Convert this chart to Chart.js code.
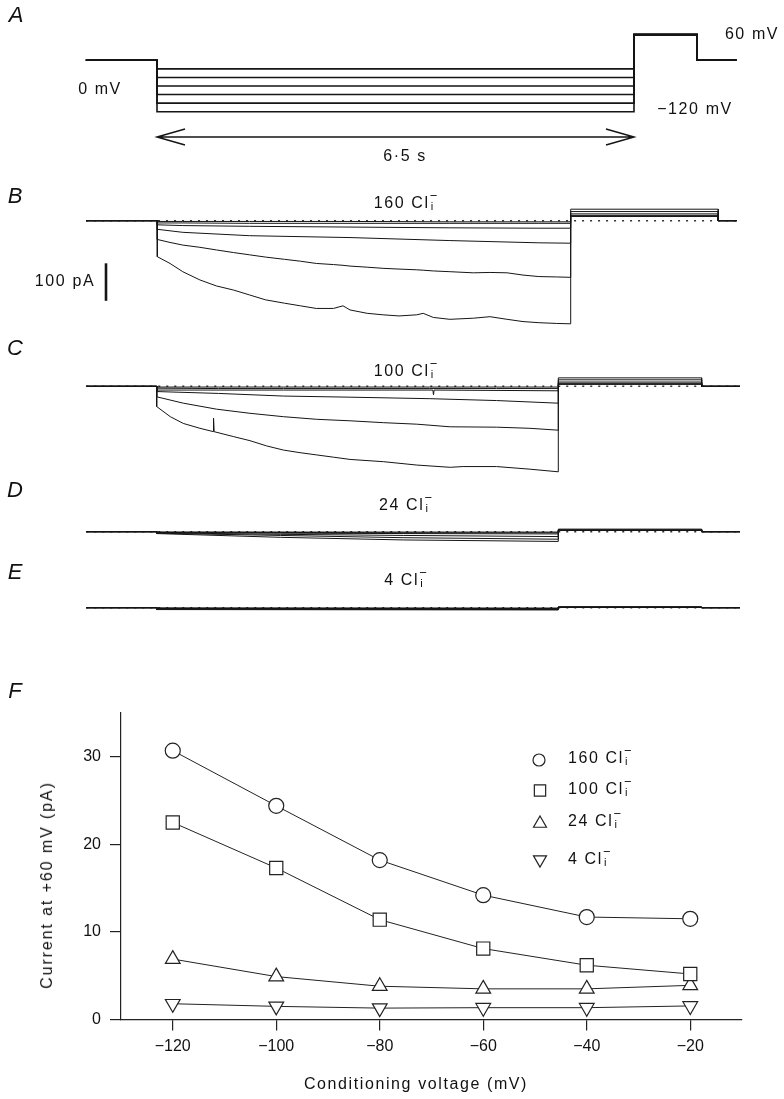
<!DOCTYPE html>
<html lang="en"><head><meta charset="utf-8"><title>Cl- dependence of tail currents</title>
<script src="https://cdn.jsdelivr.net/npm/chart.js@4.4.1/dist/chart.umd.min.js"></script>
<style>
html,body{margin:0;padding:0;background:#fff;}
#fig{position:relative;width:784px;height:1099px;overflow:hidden;font-family:"Liberation Sans",Arial,Helvetica,sans-serif;color:#111;}
#fig canvas{position:absolute;left:0;}
.t{position:absolute;white-space:nowrap;font-size:16px;line-height:1;letter-spacing:1.6px;transform:translate(-50%,-50%);}
.lt{transform:translate(0,-50%);}
.pl{font-style:italic;font-size:22px;letter-spacing:0;}
.ion{display:inline-block;position:relative;width:0.42em;height:1em;vertical-align:top;letter-spacing:0;}
.ion .sp{position:absolute;left:0.02em;top:-0.36em;font-size:0.8em;}
.ion .sb{position:absolute;left:0.1em;top:0.5em;font-size:0.7em;}
.rot{transform:translate(-50%,-50%) rotate(-90deg);letter-spacing:1.9px;}
</style></head><body><div id="fig"></div>
<script>
// ---------------- DATA ----------------
// Panel A: voltage protocol
const condVoltages = [-120, -100, -80, -60, -40, -20];     // conditioning steps (mV)
const holdingV = 0;                                         // mV
const testV = 60;                                           // mV
const condDuration = 6.5;                                   // s
const protocolTimes = [-0.97, 0, 6.5, 7.36, 7.9];           // s: start, step, test on, test off, end

// Panel F: current at +60 mV vs conditioning voltage (pA)
const fVoltages = [-120, -100, -80, -60, -40, -20];
const cl160 = [30.7, 24.4, 18.2, 14.2, 11.7, 11.5];
const cl100 = [22.5, 17.3, 11.4, 8.1, 6.2, 5.2];
const cl24  = [6.9, 4.9, 3.8, 3.5, 3.5, 3.9];
const cl4   = [1.8, 1.5, 1.3, 1.35, 1.35, 1.55];
const fXTicks = [-120, -100, -80, -60, -40, -20];
const fYTicks = [0, 10, 20, 30];
const seriesLabels = ['160', '100', '24', '4'];

// Panel B: 160 Cl- (pA), sweep start / tail end / sweep end (s)
const bSweep = [-1.12, 8.82, 9.11];
const bTimes = [0, 0.2, 0.4, 0.67, 0.93, 1.2, 1.45, 1.7, 2.0, 2.25, 2.5, 2.77, 2.92, 3.03, 3.3, 3.55, 3.8, 4.08, 4.18, 4.34, 4.6, 4.97, 5.23, 5.5, 5.75, 6.0, 6.28, 6.5];
const bI120 = [-96, -114, -136, -158, -174, -185, -198, -211, -220, -227, -234, -234, -227, -238, -247, -251, -254, -251, -247, -258, -263, -260, -256, -263, -269, -272, -274, -275];
const bI100 = [-50, -58, -65, -71, -78, -85, -91, -97, -103, -108, -114, -117, -119, -121, -124, -127, -129, -131, -132, -134, -136, -139, -138, -139, -145, -149, -150, -151];
const bShortTimes = [0, 0.4, 1.45, 3.03, 4.6, 6.0, 6.5];
const bI80 = [-23, -31, -40, -45, -53, -59, -60];
const bI60 = [-11, -13, -15, -17, -19, -20, -20];
const bI40 = [-6, -6, -7, -7, -7, -7, -7];
const bI20 = [-2, -2, -2, -2, -3, -3, -3];

// Panel C: 100 Cl- (pA)
const cSweep = [-1.14, 8.82, 9.44];
const cTimes120 = [0, 0.22, 0.43, 0.70, 0.92, 0.92, 0.93, 1.24, 1.51, 1.78, 2.05, 2.32, 2.59, 2.86, 3.13, 3.67, 4.21, 4.75, 4.96, 5.50, 6.04, 6.5];
const cI120 = [-54, -81, -99, -112, -121, -85, -121, -134, -145, -159, -170, -177, -183, -189, -195, -201, -210, -216, -214, -214, -221, -228];
const cTimes100 = [0, 0.43, 0.97, 1.51, 2.05, 2.59, 3.13, 3.67, 4.21, 4.75, 5.5, 6.04, 6.5];
const cI100 = [-28, -45, -61, -72, -81, -88, -92, -97, -101, -108, -109, -112, -117];
const cShortTimes = [0, 1.0, 2.05, 3.13, 4.42, 5.5, 6.5];
const cI80 = [-14, -19, -26, -29, -33, -38, -45];
const cTimes60 = [0, 2.05, 4.47, 4.48, 4.49, 6.5];
const cI60 = [-10, -10, -10, -23, -10, -12];
const cI40 = [-5, -6, -6, -6, -6, -6, -6];
const cI20 = [-2, -2, -2, -2, -2, -2, -2];

// Panel D: 24 Cl- (pA)
const dSweep = [-1.14, 8.82, 9.44];
const dTimes = [0, 2, 4, 6.5];
const dI120 = [-5, -15, -22, -26];
const dI100 = [-4, -10, -16, -20];
const dI80 = [-3, -7, -10, -13];
const dI60 = [-2, -4, -5, -6];
const dI40 = [-1.5, -2, -3, -3];
const dI20 = [-1, -1, -1, -1];

// Panel E: 4 Cl- (pA)
const eSweep = [-1.14, 8.82, 9.44];
const eTimes = [0, 6.5];
const eI120 = [-5, -6];
const eI100 = [-4, -5];
const eI80 = [-3, -4];
const eI60 = [-2, -3];
const eI40 = [-1, -2];
const eI20 = [-1, -1];

const scaleBarPA = 100;

// ---------------- LAYOUT HELPERS ----------------
const fig = document.getElementById('fig');
const INK = '#151515';
function rangeX(v0, p0, v1, p1, size){ const k=(p1-p0)/(v1-v0); const min=v0-p0/k; return {min, max:min+size/k}; }
function rangeY(v0, p0, v1, p1, size){ const k=(p0-p1)/(v1-v0); const max=v0+p0/k; return {min:max-size/k, max}; }
function makeCanvas(top, height){
  const c=document.createElement('canvas'); c.width=784; c.height=height; c.style.top=top+'px'; fig.appendChild(c); return c;
}
function ionHTML(n){ return n+' Cl<span class="ion"><span class="sp">\u2212</span><span class="sb">i</span></span>'; }
function text(html, x, y, cls){
  const d=document.createElement('div'); d.className='t '+(cls||''); d.innerHTML=html; d.style.left=x+'px'; d.style.top=y+'px'; fig.appendChild(d); return d;
}
const minus = v => v<0 ? '\u2212'+Math.abs(v) : String(v);

function traceChart(canvas, datasets, xr, yr, extraPlugins){
  return new Chart(canvas, {
    type:'line',
    data:{datasets},
    options:{
      responsive:false, animation:false, devicePixelRatio:1,
      layout:{padding:0},
      events:[],
      plugins:{legend:{display:false}, tooltip:{enabled:false}},
      scales:{
        x:{type:'linear', display:false, min:xr.min, max:xr.max},
        y:{type:'linear', display:false, min:yr.min, max:yr.max}
      }
    },
    plugins: extraPlugins || []
  });
}
function lineDS(points, width, extra){
  return Object.assign({data:points, borderColor:INK, borderWidth:width||1, pointRadius:0, tension:0, clip:false, spanGaps:true}, extra||{});
}
function sweep(times, values, tail, sw){
  const pts=[{x:sw[0],y:0},{x:0,y:0}];
  times.forEach((t,i)=>pts.push({x:t,y:values[i]}));
  pts.push({x:condDuration,y:tail},{x:sw[1],y:tail},{x:sw[1],y:0},{x:sw[2],y:0});
  return pts;
}
function dotted(sw){
  return lineDS([{x:sw[0],y:0},{x:sw[2],y:0}], 1.6, {borderColor:'#333', borderDash:[2,6]});
}

// ---------------- PANEL A ----------------
{
  const c = makeCanvas(0, 180);
  const xr = rangeX(0, 157, 6.5, 634, 784);
  const yr = rangeY(0, 60.3, -120, 111.7, 180);
  const ds = condVoltages.map(v => lineDS([
    {x:protocolTimes[0], y:holdingV}, {x:protocolTimes[1], y:holdingV},
    {x:protocolTimes[1], y:v}, {x:protocolTimes[2], y:v},
    {x:protocolTimes[2], y:testV}, {x:protocolTimes[3], y:testV},
    {x:protocolTimes[3], y:holdingV}, {x:protocolTimes[4], y:holdingV}
  ], 1.6));
  const arrow = {
    id:'arrow',
    afterDatasetsDraw(ch){
      const ctx=ch.ctx, xs=ch.scales.x;
      const x0=xs.getPixelForValue(protocolTimes[1]), x1=xs.getPixelForValue(protocolTimes[2]), y=137;
      ctx.save(); ctx.strokeStyle=INK; ctx.lineWidth=1.5;
      ctx.beginPath(); ctx.moveTo(x0,y); ctx.lineTo(x1,y);
      ctx.moveTo(x0+28,y-8); ctx.lineTo(x0,y); ctx.lineTo(x0+28,y+8);
      ctx.moveTo(x1-28,y-8); ctx.lineTo(x1,y); ctx.lineTo(x1-28,y+8);
      ctx.stroke(); ctx.restore();
    }
  };
  traceChart(c, ds, xr, yr, [arrow]);
  text('A', 16, 15, 'pl');
  text('0 mV', 100, 89);
  text('60 mV', 752, 34);
  text('\u2212120 mV', 695, 109);
  text('6\u00b75 s', 405, 156);
}

// ---------------- PANEL B ----------------
{
  const c = makeCanvas(180, 155);
  const xr = rangeX(0, 157.3, 6.5, 570.7, 784);
  const yr = rangeY(0, 40.7, -100, 78.2, 155);
  const tails = cl160; // tail current at +60 mV, order -120 .. -20
  const ds = [
    lineDS(sweep(bTimes, bI120, tails[0], bSweep)),
    lineDS(sweep(bTimes, bI100, tails[1], bSweep)),
    lineDS(sweep(bShortTimes, bI80, tails[2], bSweep)),
    lineDS(sweep(bShortTimes, bI60, tails[3], bSweep)),
    lineDS(sweep(bShortTimes, bI40, tails[4], bSweep)),
    lineDS(sweep(bShortTimes, bI20, tails[5], bSweep)),
    dotted(bSweep)
  ];
  const bar = {
    id:'scalebar',
    afterDatasetsDraw(ch){
      const ctx=ch.ctx, ys=ch.scales.y;
      const top=ys.getPixelForValue(-113.6), bot=ys.getPixelForValue(-113.6-scaleBarPA);
      ctx.save(); ctx.strokeStyle=INK; ctx.lineWidth=2.6;
      ctx.beginPath(); ctx.moveTo(106,top); ctx.lineTo(106,bot); ctx.stroke(); ctx.restore();
    }
  };
  traceChart(c, ds, xr, yr, [bar]);
  text('B', 15, 196, 'pl');
  text(ionHTML('160'), 405, 203);
  text('100 pA', 65, 281);
}

// ---------------- PANEL C ----------------
const xrCDE = rangeX(0, 156.7, 6.5, 558.3, 784);
{
  const c = makeCanvas(335, 145);
  const yr = rangeY(0, 51.3, -100, 88.8, 145);
  const tails = cl100;
  const ds = [
    lineDS(sweep(cTimes120, cI120, tails[0], cSweep)),
    lineDS(sweep(cTimes100, cI100, tails[1], cSweep)),
    lineDS(sweep(cShortTimes, cI80, tails[2], cSweep)),
    lineDS(sweep(cTimes60, cI60, tails[3], cSweep)),
    lineDS(sweep(cShortTimes, cI40, tails[4], cSweep)),
    lineDS(sweep(cShortTimes, cI20, tails[5], cSweep)),
    dotted(cSweep)
  ];
  traceChart(c, ds, xrCDE, yr);
  text('C', 15, 348, 'pl');
  text(ionHTML('100'), 405, 371);
}

// ---------------- PANEL D ----------------
{
  const c = makeCanvas(480, 80);
  const yr = rangeY(0, 51.7, -100, 89.2, 80);
  const tails = cl24;
  const ds = [dI120, dI100, dI80, dI60, dI40, dI20].map((arr,i)=>lineDS(sweep(dTimes, arr, tails[i], dSweep)));
  ds.push(dotted(dSweep));
  traceChart(c, ds, xrCDE, yr);
  text('D', 15, 490, 'pl');
  text(ionHTML('24'), 405, 505);
}

// ---------------- PANEL E ----------------
{
  const c = makeCanvas(560, 80);
  const yr = rangeY(0, 47.7, -100, 85.2, 80);
  const tails = cl4;
  const ds = [eI120, eI100, eI80, eI60, eI40, eI20].map((arr,i)=>lineDS(sweep(eTimes, arr, tails[i], eSweep)));
  ds.push(dotted(eSweep));
  traceChart(c, ds, xrCDE, yr);
  text('E', 15, 572, 'pl');
  text(ionHTML('4'), 405, 580);
}

// ---------------- PANEL F ----------------
{
  const c = makeCanvas(640, 459);
  const styles = [
    {pointStyle:'circle', pointRadius:7.5, rotation:0},
    {pointStyle:'rect', pointRadius:9.3, rotation:0},
    {pointStyle:'triangle', pointRadius:8.5, rotation:0},
    {pointStyle:'triangle', pointRadius:8.5, rotation:180}
  ];
  const series = [cl160, cl100, cl24, cl4];
  const ds = series.map((arr,i)=>({
    label: seriesLabels[i]+' Cl',
    data: fVoltages.map((v,j)=>({x:v, y:arr[j]})),
    borderColor:'#222', borderWidth:1, tension:0, clip:false,
    pointStyle: styles[i].pointStyle, pointRadius: styles[i].pointRadius, pointRotation: styles[i].rotation,
    pointBackgroundColor:'#fff', pointBorderColor:'#222', pointBorderWidth:1.2
  }));
  const legendSyms = [
    {style:'circle', r:6, rot:0, x:539, y:120},
    {style:'rect', r:8, rot:0, x:540, y:150.5},
    {style:'triangle', r:7.5, rot:0, x:540, y:183.5},
    {style:'triangle', r:7.5, rot:180, x:540, y:219.6}
  ];
  const legendPlugin = {
    id:'symLegend',
    afterDraw(ch){
      const ctx=ch.ctx; ctx.save();
      ctx.strokeStyle='#222'; ctx.fillStyle='#fff';
      legendSyms.forEach(s=>{
        Chart.helpers.drawPoint(ctx, {pointStyle:s.style, radius:s.r, rotation:s.rot, borderWidth:1.1}, s.x, s.y);
      });
      ctx.restore();
    }
  };
  new Chart(c, {
    type:'line',
    data:{datasets:ds},
    options:{
      responsive:false, animation:false, devicePixelRatio:1, events:[],
      layout:{padding:{left:0, right:42, top:73, bottom:0}},
      plugins:{legend:{display:false}, tooltip:{enabled:false}},
      scales:{
        x:{type:'linear', min:-130, max:-10,
           afterFit(s){ s.height = 79.5; },
           afterBuildTicks(s){ s.ticks = fXTicks.map(v=>({value:v})); },
           ticks:{callback:v=>minus(v), color:'#111', font:{family:'"Liberation Sans", Arial, sans-serif', size:16}, padding:6, maxRotation:0, autoSkip:false},
           grid:{drawOnChartArea:false, drawTicks:true, tickLength:11, color:'#222', lineWidth:1.2},
           border:{display:true, color:'#222', width:1.2}},
        y:{type:'linear', min:0, max:35,
           afterFit(s){ s.width = 121; },
           afterBuildTicks(s){ s.ticks = fYTicks.map(v=>({value:v})); },
           ticks:{callback:v=>minus(v), color:'#111', font:{family:'"Liberation Sans", Arial, sans-serif', size:16}, padding:9},
           grid:{drawOnChartArea:false, drawTicks:true, tickLength:11, color:'#222', lineWidth:1.2},
           border:{display:true, color:'#222', width:1.2}}
      }
    },
    plugins:[legendPlugin]
  });
  text('F', 15, 691, 'pl');
  const legY = [758, 789, 821, 859];
  seriesLabels.forEach((l,i)=>text(ionHTML(l), 568, legY[i], 'lt'));
  text('Conditioning voltage (mV)', 416, 1084);
  text('Current at +60 mV (pA)', 47, 885, 'rot');
}
</script></body></html>
